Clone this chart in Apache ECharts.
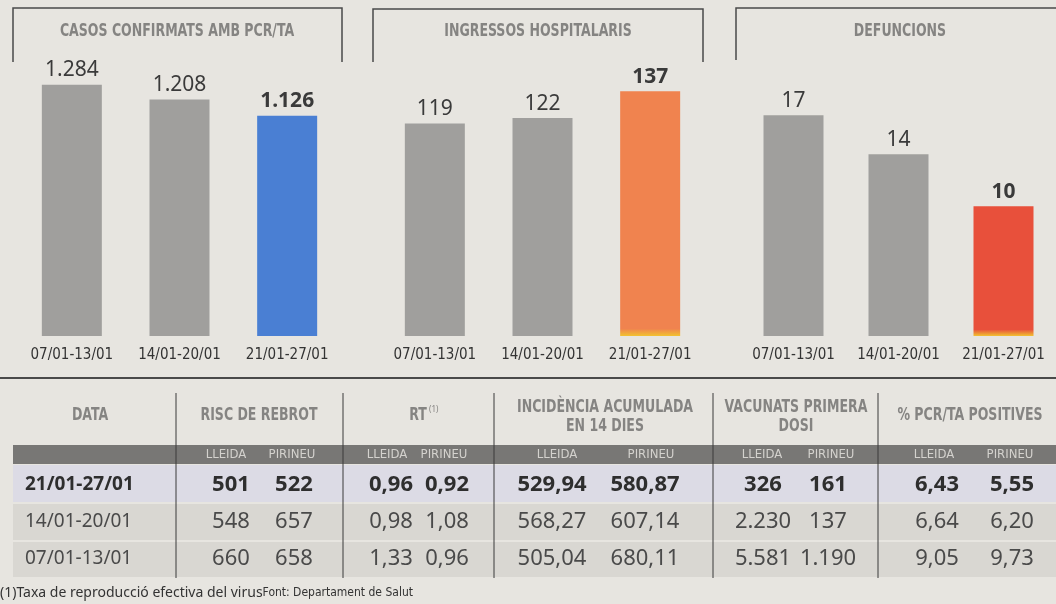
<!DOCTYPE html>
<html>
<head>
<meta charset="utf-8">
<script src="https://cdn.jsdelivr.net/npm/echarts@6/dist/echarts.min.js"></script>
<style>
  html, body { margin: 0; padding: 0; background: #e7e5e0; }
  #main { width: 1056px; height: 604px; }
</style>
</head>
<body>
<div id="main"></div>
<script>
// bar panels
const weeks = ['07/01-13/01', '14/01-20/01', '21/01-27/01'];
const casos = [1284, 1208, 1126];
const ingressos = [119, 122, 137];
const defuncions = [17, 14, 10];
const panelTitles = ['CASOS CONFIRMATS AMB PCR/TA', 'INGRESSOS HOSPITALARIS', 'DEFUNCIONS'];

// table
const tableDates = ['21/01-27/01', '14/01-20/01', '07/01-13/01'];
const rebrotLleida = [501, 548, 660];
const rebrotPirineu = [522, 657, 658];
const rtLleida = [0.96, 0.98, 1.33];
const rtPirineu = [0.92, 1.08, 0.96];
const incidLleida = [529.94, 568.27, 505.04];
const incidPirineu = [580.87, 607.14, 680.11];
const vacLleida = [326, 2230, 5581];
const vacPirineu = [161, 137, 1190];
const pcrLleida = [6.43, 6.64, 9.05];
const pcrPirineu = [5.55, 6.20, 9.73];
const subHeads = ['LLEIDA', 'PIRINEU'];

const NARROW = "'Liberation Sans Narrow', 'DejaVu Sans Condensed', sans-serif";
const SANS = "'Noto Sans', 'Open Sans', sans-serif";
const GRAY = '#a09f9d';

function fmtInt(v) {
  return String(v).replace(/\B(?=(\d{3})+(?!\d))/g, '.');
}
function fmtDec(v) {
  return v.toFixed(2).replace('.', ',');
}
function withYellowFoot(color, stop) {
  return new echarts.graphic.LinearGradient(0, 0, 0, 1, [
    { offset: 0, color: color },
    { offset: stop, color: color },
    { offset: 1, color: '#f2c230' }
  ]);
}

const panels = [
  { data: casos, max: 1400, left: 18, hi: '#4a7fd3' },
  { data: ingressos, max: 153.4, left: 381, hi: withYellowFoot('#f0834f', 0.97) },
  { data: defuncions, max: 21.1, left: 741, hi: withYellowFoot('#e8503b', 0.95) }
];

const chart = echarts.init(document.getElementById('main'));

const grids = panels.map(p => ({ left: p.left, width: 323, top: 62, height: 274 }));
const xAxes = panels.map((p, i) => ({
  type: 'category',
  gridIndex: i,
  data: weeks,
  axisLine: { show: false },
  axisTick: { show: false },
  axisLabel: { interval: 0, margin: 12, fontSize: 15, color: '#333', fontFamily: NARROW }
}));
const yAxes = panels.map((p, i) => ({
  type: 'value', gridIndex: i, min: 0, max: p.max, show: false, splitLine: { show: false }
}));
const series = panels.map((p, i) => ({
  type: 'bar',
  xAxisIndex: i,
  yAxisIndex: i,
  barWidth: 60,
  label: {
    show: true, position: 'top', distance: 4,
    fontSize: 21, fontFamily: SANS, color: '#3a3a3a',
    formatter: d => fmtInt(d.value)
  },
  data: p.data.map((v, j) => {
    const last = j === p.data.length - 1;
    return {
      value: v,
      itemStyle: { color: last ? p.hi : GRAY },
      label: { fontWeight: last ? 'bold' : 'normal' }
    };
  })
}));

// graphics: brackets, titles, table
const g = [];
function text(x, y, str, font, fill, align, sx) {
  g.push({
    type: 'text', x: x, y: y, scaleX: sx || 1, silent: true,
    style: { text: str, font: font, fill: fill, textAlign: align || 'center', textVerticalAlign: 'middle' }
  });
}
function line(x1, y1, x2, y2, stroke, w) {
  g.push({ type: 'line', silent: true, shape: { x1, y1, x2, y2 }, style: { stroke: stroke, lineWidth: w } });
}
function rect(x, y, w, h, fill) {
  g.push({ type: 'rect', silent: true, shape: { x, y, width: w, height: h }, style: { fill: fill } });
}

const brackets = [
  [[13, 62], [13, 8], [342, 8], [342, 62]],
  [[373, 62], [373, 9], [703, 9], [703, 62]],
  [[736, 60], [736, 8], [1056, 8]]
];
brackets.forEach(pts => g.push({
  type: 'polyline', silent: true, shape: { points: pts }, style: { stroke: '#4a4a4a', lineWidth: 1.5, fill: null }
}));
const titleX = [177, 538, 900];
const headFont = 'bold 17px ' + NARROW;
const headCol = '#858482';
panelTitles.forEach((t, i) => text(titleX[i], 32, t, headFont, headCol, 'center', 0.82));

line(0, 378, 1056, 378, '#4a4a4a', 2);

// table backgrounds
rect(13, 445, 1043, 19, '#787775');
rect(13, 465, 1043, 37, '#dcdbe5');
rect(13, 504, 1043, 36, '#d9d7d2');
rect(13, 542, 1043, 35, '#d9d7d2');

[176, 343, 494, 713, 878].forEach(x => line(x, 393, x, 578, '#3a3a3a', 1));

// headers
const HS = 0.82;
text(90, 416, 'DATA', headFont, headCol, 'center', HS);
text(259, 416, 'RISC DE REBROT', headFont, headCol, 'center', HS);
text(418, 416, 'RT', headFont, headCol, 'center', HS);
text(429, 410, '(1)', '8px ' + SANS, headCol, 'left');
text(605, 408, 'INCIDÈNCIA ACUMULADA', headFont, headCol, 'center', HS);
text(605, 427, 'EN 14 DIES', headFont, headCol, 'center', HS);
text(796, 408, 'VACUNATS PRIMERA', headFont, headCol, 'center', HS);
text(796, 427, 'DOSI', headFont, headCol, 'center', HS);
text(970, 416, '% PCR/TA POSITIVES', headFont, headCol, 'center', HS);

const cols = [
  { l: rebrotLleida, p: rebrotPirineu, fmt: fmtInt, cx: [231, 294], sx: [226, 292] },
  { l: rtLleida, p: rtPirineu, fmt: fmtDec, cx: [391, 447], sx: [387, 444] },
  { l: incidLleida, p: incidPirineu, fmt: fmtDec, cx: [552, 645], sx: [557, 651] },
  { l: vacLleida, p: vacPirineu, fmt: fmtInt, cx: [763, 828], sx: [762, 831] },
  { l: pcrLleida, p: pcrPirineu, fmt: fmtDec, cx: [937, 1012], sx: [934, 1010] }
];
const rowY = [485, 522, 559];
cols.forEach(c => {
  text(c.sx[0], 455, subHeads[0], '13px ' + NARROW, '#d4d2ce');
  text(c.sx[1], 455, subHeads[1], '13px ' + NARROW, '#d4d2ce');
  rowY.forEach((y, r) => {
    const font = (r === 0 ? 'bold ' : '') + '22px ' + SANS;
    const col = r === 0 ? '#2e2e2e' : '#4a4a4a';
    text(c.cx[0], y, c.fmt(c.l[r]), font, col);
    text(c.cx[1], y, c.fmt(c.p[r]), font, col);
  });
});
tableDates.forEach((d, r) => {
  text(25, rowY[r], d, (r === 0 ? 'bold ' : '') + '19px ' + SANS, r === 0 ? '#2e2e2e' : '#4a4a4a', 'left');
});

g.push({
  type: 'text', x: 0, y: 593, silent: true,
  style: {
    text: '{a|(1)Taxa de reproducció efectiva del virus}{b|Font: Departament de Salut}',
    textVerticalAlign: 'middle',
    rich: {
      a: { font: '14px ' + SANS, fill: '#333' },
      b: { font: '12px ' + NARROW, fill: '#333' }
    }
  }
});

chart.setOption({
  backgroundColor: '#e7e5e0',
  animation: false,
  grid: grids,
  xAxis: xAxes,
  yAxis: yAxes,
  series: series,
  graphic: g
});
</script>
</body>
</html>
